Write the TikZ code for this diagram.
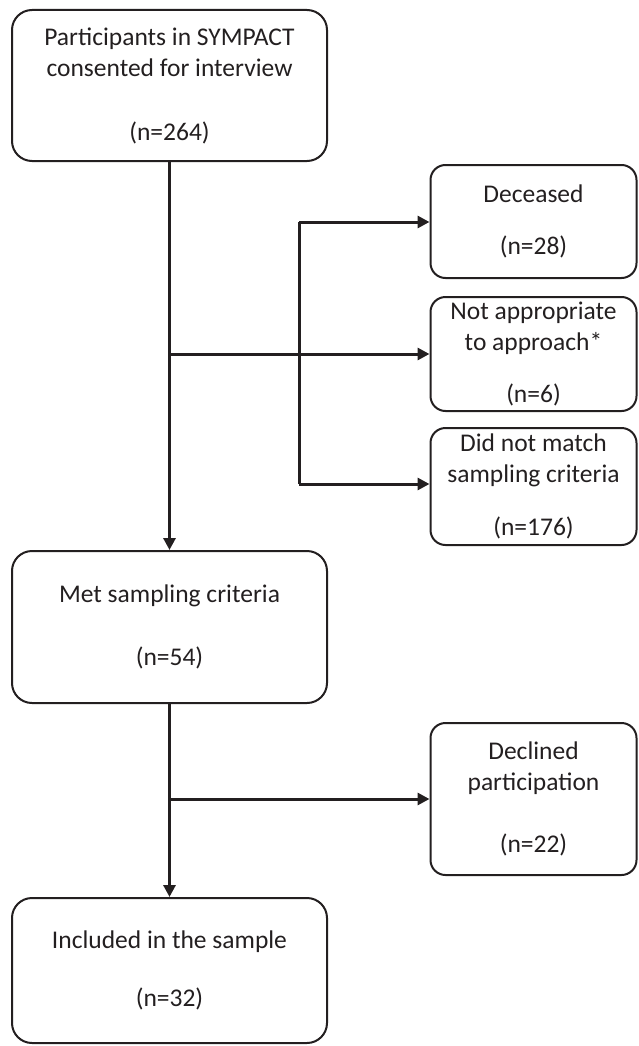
\documentclass[tikz,border=0pt]{standalone}
\usepackage{fontspec}
\setmainfont{Carlito}
\usetikzlibrary{arrows.meta}
\definecolor{ink}{HTML}{231F20}
\begin{document}
\begin{tikzpicture}[x=1pt,y=-1pt,
  box/.style={draw=ink, line width=2pt, rounded corners=20pt, inner sep=0pt,
    align=center, text=ink, font=\fontsize{25.5}{31}\selectfont},
  sidebox/.style={box, rounded corners=15pt, minimum width=206pt},
  mainbox/.style={box, minimum width=315pt},
  conn/.style={draw=ink, line width=3pt},
  arr/.style={conn, -{Triangle[length=12pt,width=12pt]}}]
\useasboundingbox (0,0) rectangle (638,1046);
\node[mainbox, minimum height=151pt] (b1) at (169.5,85.5)
  {Participants in SYMPACT\\consented for interview\\[33pt](n=264)};
\node[sidebox, minimum height=113pt] (dec) at (533.5,221.5) {Deceased\\[21pt](n=28)};
\node[sidebox, minimum height=114pt] (nap) at (533.5,354) {Not appropriate\\to approach*\\[21pt](n=6)};
\node[sidebox, minimum height=117pt] (dnm) at (533.5,486.5) {Did not match\\sampling criteria\\[22pt](n=176)};
\node[mainbox, minimum height=152pt] (met) at (169.5,627) {Met sampling criteria\\[32pt](n=54)};
\node[sidebox, minimum height=152pt] (decl) at (533.5,799) {Declined\\participation\\[31pt](n=22)};
\node[mainbox, minimum height=145pt] (inc) at (169.5,970.5) {Included in the sample\\[27pt](n=32)};
% connectors
\draw[arr] (b1.south) -- (met.north);
\coordinate (j1) at (b1.south |- nap.west);
\draw[arr] (j1) -- (nap.west);
\coordinate (vt) at (299,222);
\coordinate (vb) at (299,484);
\draw[conn] (vt) -- (vb);
\draw[arr] (vt) -- (vt -| dec.west);
\draw[arr] (vb) -- (vb -| dnm.west);
\draw[arr] (met.south) -- (inc.north);
\coordinate (j2) at (met.south |- decl.west);
\draw[arr] (j2) -- (decl.west);
\end{tikzpicture}
\end{document}
